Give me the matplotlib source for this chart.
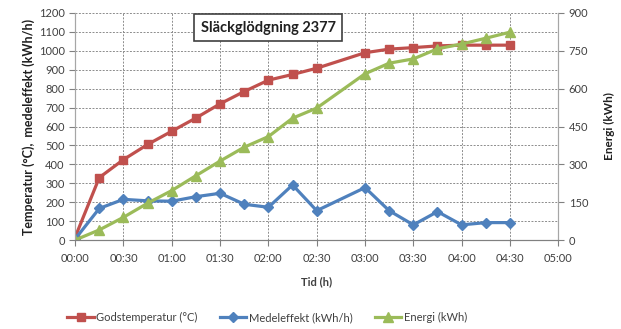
import matplotlib
matplotlib.use("Agg")
import matplotlib.pyplot as plt

plt.rcParams['font.family'] = ['Lato', 'DejaVu Sans']

# tid i minuter efter start
tid = [0, 15, 30, 45, 60, 75, 90, 105, 120, 135, 150, 180, 195, 210, 225, 240, 255, 270]
godstemp = [15, 330, 425, 505, 575, 645, 720, 785, 845, 875, 908, 990, 1009, 1017, 1026, 1030, 1030, 1030]
medeleffekt = [5, 167, 215, 207, 205, 229, 247, 189, 173, 291, 155, 277, 155, 80, 150, 80, 92, 92]
energi = [0, 40, 90, 146, 196, 255, 313, 368, 410, 483, 523, 659, 701, 718, 758, 777, 800, 824]

xticks = list(range(0, 301, 30))
xlabels = ['%02d:%02d' % (m // 60, m % 60) for m in xticks]

red = '#C0504D'
blue = '#4F81BD'
green = '#9BBB59'
txt = '#404040'

fig = plt.figure(figsize=(6.21, 3.29), dpi=100)
ax = fig.add_axes([0.121, 0.2705, 0.778, 0.69])
ax2 = ax.twinx()

l1, = ax.plot(tid, godstemp, color=red, lw=2.3, marker='s', ms=6, label='Godstemperatur (°C)')
l2, = ax.plot(tid, medeleffekt, color=blue, lw=2.3, marker='D', ms=5.5, label='Medeleffekt (kWh/h)')
l3, = ax2.plot(tid, energi, color=green, lw=2.3, marker='^', ms=7, label='Energi (kWh)')

ax.set_xlim(0, 300)
ax.set_ylim(0, 1200)
ax2.set_ylim(0, 900)
ax.set_xticks(xticks)
ax.set_xticklabels(xlabels)
ax.set_yticks(range(0, 1201, 100))
ax2.set_yticks(range(0, 901, 150))

ax.grid(True, color='#8c8c8c', ls=(0, (2, 1.5)), lw=0.7)
ax.set_axisbelow(True)
for a in (ax, ax2):
    for s in a.spines.values():
        s.set_color('#a6a6a6')
    a.spines['bottom'].set_color('#808080')
    a.tick_params(labelsize=8, colors='#808080', labelcolor=txt, length=4, width=0.8)
ax.spines['top'].set_visible(False)
ax2.spines['top'].set_visible(False)
ax.tick_params(axis='x', pad=5)

ax.set_xlabel('Tid (h)', fontsize=8, fontweight='bold', color=txt, labelpad=9)
ax.set_ylabel('Temperatur (°C),  medeleffekt (kWh/h)', fontsize=9, fontweight='bold', color='#202020', labelpad=3)
ax2.set_ylabel('Energi (kWh)', fontsize=8.5, fontweight='bold', color='#202020', labelpad=11)

ax.text(0.40, 0.936, 'Släckglödgning 2377', transform=ax.transAxes, ha='center', va='center',
        fontsize=10.5, fontweight='bold', color='#202020',
        bbox=dict(boxstyle='square,pad=0.45', fc='white', ec='#404040', lw=1.2))

fig.legend(handles=[l1, l2, l3], loc='center', bbox_to_anchor=(0.43, 0.035), ncol=3,
           frameon=False, fontsize=8, handlelength=2.4, handletextpad=0.2, columnspacing=2.0,
           labelcolor=txt)

fig.savefig('out.png', dpi=100)
